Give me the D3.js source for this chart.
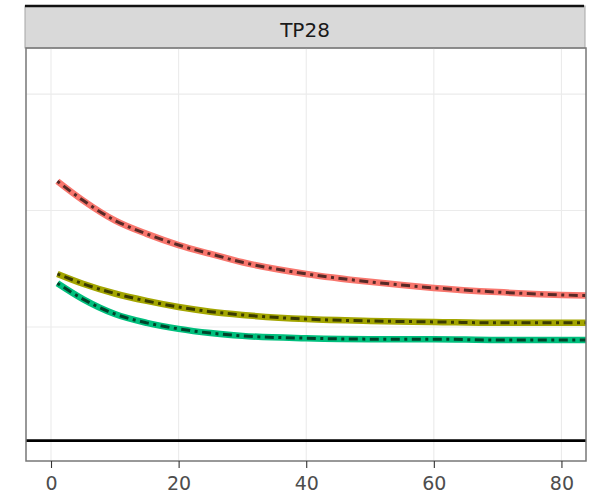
<!DOCTYPE html>
<html><head><meta charset="utf-8">
<script src="https://cdn.jsdelivr.net/npm/d3@7"></script>
<style>html,body{margin:0;padding:0;background:#fff;}svg{display:block;}</style>
</head><body>
<svg id="chart" width="598" height="497"></svg>
<script>
const facetLabel = "TP28";
const xValues = [1, 5, 10, 15, 20, 25, 30, 40, 50, 60, 70, 80, 85];
const redValues = [0.563, 0.522, 0.479, 0.450, 0.426, 0.407, 0.389, 0.364, 0.347, 0.334, 0.325, 0.319, 0.317];
const yellowValues = [0.364, 0.343, 0.322, 0.306, 0.293, 0.283, 0.276, 0.267, 0.263, 0.261, 0.259, 0.259, 0.259];
const greenValues = [0.344, 0.310, 0.278, 0.259, 0.246, 0.237, 0.231, 0.226, 0.224, 0.224, 0.222, 0.222, 0.222];
const seriesNames = ["A", "B", "C"];
const seriesColors = ["#F8766D", "#A3A500", "#00BF7D"];
const xTicks = [0, 20, 40, 60, 80];
const yGrid = [0.25, 0.5, 0.75];
const hlineValue = 0.006;

const series = [redValues, yellowValues, greenValues].map((vals, i) => ({
  name: seriesNames[i], color: seriesColors[i],
  points: xValues.map((x, j) => ({x, y: vals[j]}))
}));

const svg = d3.select("#chart");
const pL = 26, pR = 586, pT = 48, pB = 461;
const x = d3.scaleLinear().domain([-3.92, 83.85]).range([pL, pR]);
const y = d3.scaleLinear().domain([-0.0376, 0.849]).range([pB, pT]);

// strip
svg.append("rect").attr("x", 25).attr("y", 6).attr("width", 560).attr("height", 42)
  .attr("fill", "#D9D9D9").attr("stroke", "#A6A6A6").attr("stroke-width", 1);
svg.append("line").attr("x1", 25).attr("x2", 584).attr("y1", 6).attr("y2", 6)
  .attr("stroke", "#111").attr("stroke-width", 2.5);
svg.append("text").attr("x", (25 + 585) / 2).attr("y", 30).attr("text-anchor", "middle")
  .attr("dominant-baseline", "central").attr("font-family", "DejaVu Sans")
  .attr("font-size", 20).attr("fill", "#1A1A1A").text(facetLabel);

// panel
const clipId = "clip";
svg.append("clipPath").attr("id", clipId).append("rect")
  .attr("x", pL).attr("y", pT).attr("width", pR - pL).attr("height", pB - pT);
const g = svg.append("g");
g.selectAll(".gx").data(xTicks).join("line")
  .attr("x1", d => x(d)).attr("x2", d => x(d)).attr("y1", pT).attr("y2", pB)
  .attr("stroke", "#EBEBEB").attr("stroke-width", 1.1);
g.selectAll(".gy").data(yGrid).join("line")
  .attr("x1", pL).attr("x2", pR).attr("y1", d => y(d)).attr("y2", d => y(d))
  .attr("stroke", "#EBEBEB").attr("stroke-width", 1.1);

const line = d3.line().x(d => x(d.x)).y(d => y(d.y)).curve(d3.curveMonotoneX);
const lg = svg.append("g").attr("clip-path", `url(#${clipId})`);
series.forEach(s => {
  lg.append("path").attr("d", line(s.points)).attr("fill", "none")
    .attr("stroke", s.color).attr("stroke-width", 6.5).attr("stroke-linecap", "butt");
});
series.forEach(s => {
  lg.append("path").attr("d", line(s.points)).attr("fill", "none")
    .attr("stroke", "#000").attr("stroke-opacity", 0.65).attr("stroke-width", 3)
    .attr("stroke-dasharray", "3,4.5,9,4.5");
});

svg.append("line").attr("x1", pL).attr("x2", pR).attr("y1", y(hlineValue)).attr("y2", y(hlineValue))
  .attr("stroke", "#000").attr("stroke-width", 2.8);

svg.append("rect").attr("x", pL).attr("y", pT).attr("width", pR - pL).attr("height", pB - pT)
  .attr("fill", "none").attr("stroke", "#777").attr("stroke-width", 1.5);

// x axis
const ax = svg.append("g").attr("transform", `translate(0,${pB})`)
  .call(d3.axisBottom(x).tickValues(xTicks).tickSize(7).tickPadding(9));
ax.select(".domain").remove();
ax.selectAll(".tick line").attr("stroke", "#333").attr("stroke-width", 1.1);
ax.selectAll(".tick text").attr("font-family", "DejaVu Sans").attr("font-size", 19).attr("fill", "#4D4D4D");
</script>
</body></html>
